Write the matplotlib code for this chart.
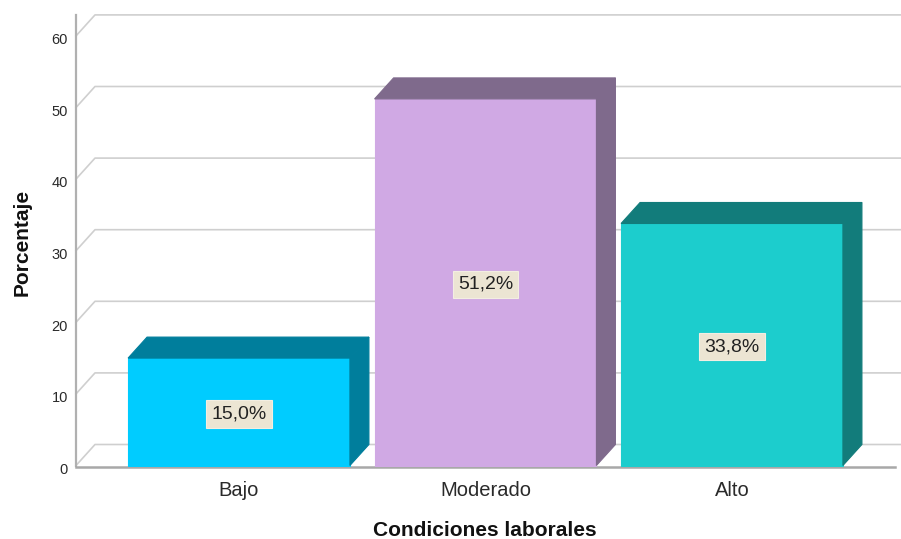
import numpy as np
import matplotlib.pyplot as plt
from matplotlib.patches import Polygon

# Datos del grafico
categorias = ["Bajo", "Moderado", "Alto"]
porcentajes = [15.0, 51.2, 33.8]
etiquetas = ["15,0%", "51,2%", "33,8%"]
ticks_y = [0, 10, 20, 30, 40, 50, 60]

# Colores de cada barra: cara frontal y cara superior/lateral
color_frente = ["#00CCFF", "#D0A9E4", "#1CCDCD"]
color_lado = ["#007E9C", "#7F6A8C", "#127C7B"]

plt.rcParams['font.family'] = ['Liberation Sans', 'DejaVu Sans']

fig = plt.figure(figsize=(9.01, 5.39), dpi=100)
W, H = 901, 539
# ejes en pixeles: izquierda 76, derecha 901, abajo 467, arriba 15
ax = fig.add_axes([76 / W, 1 - 467 / H, (901 - 76) / W, (467 - 15) / H])

px_x = 246.5  # pixeles por categoria
px_y = 7.16   # pixeles por unidad
x0 = 239      # pixel del centro de la primera barra
y0 = 465.5    # pixel del valor 0
xl = -(x0 - 76) / px_x
xr = (901 - x0) / px_x
ax.set_xlim(xl, xr)
ax.set_ylim(-(467 - y0) / px_y, (y0 - 15) / px_y)
ax.axis('off')

# profundidad del efecto 3D
dx = 19 / px_x
dy = 21 / px_y
ancho = 0.9

# rejilla con perspectiva
for v in ticks_y:
    ax.plot([xl, xl + dx, xr], [v, v + dy, v + dy], color="#CFCFCF",
            lw=1.2, clip_on=False, zorder=1)
    ax.text(xl - 8 / px_x, v - 0.6, str(v), ha='right', va='center',
            fontsize=10.5, color="#2A2A2A")

# eje vertical y linea base
ax.plot([xl, xl], [0, (y0 - 15) / px_y], color="#B0B0B0", lw=1.6, clip_on=False, zorder=2)
ax.plot([xl, (895 - x0) / px_x], [-0.2, -0.2], color="#A8A8A8", lw=1.8, clip_on=False, zorder=2)

# barras 3D
for i, (v, cf, cl) in enumerate(zip(porcentajes, color_frente, color_lado)):
    a = i - ancho / 2
    b = i + ancho / 2
    frente = Polygon([(a, 0), (b, 0), (b, v), (a, v)], closed=True,
                     facecolor=cf, edgecolor=cf, lw=0.8, zorder=3)
    arriba = Polygon([(a, v), (b, v), (b + dx, v + dy), (a + dx, v + dy)], closed=True,
                     facecolor=cl, edgecolor=cl, lw=0.8, zorder=3)
    lado = Polygon([(b, 0), (b + dx, dy), (b + dx, v + dy), (b, v)], closed=True,
                   facecolor=cl, edgecolor=cl, lw=0.8, zorder=3)
    for p in (frente, arriba, lado):
        ax.add_patch(p)
    ax.text(i, v / 2 - 0.3, etiquetas[i], ha='center', va='center', fontsize=14,
            color="#222222", zorder=5,
            bbox=dict(boxstyle='square,pad=0.27', facecolor="#ECE5D3", edgecolor="#F3EEE2", lw=0.8))
    ax.text(i, -(490 - y0) / px_y, categorias[i], ha='center', va='center',
            fontsize=14.5, color="#2A2A2A")

fig.text(485 / W, 1 - 530 / H, "Condiciones laborales", ha='center', va='center',
         fontsize=15, fontweight='bold', color="#111111")
fig.text(22 / W, 1 - 242 / H, "Porcentaje", ha='center', va='center', rotation=90,
         fontsize=15, fontweight='bold', color="#111111")

fig.savefig("out.png", dpi=100)
